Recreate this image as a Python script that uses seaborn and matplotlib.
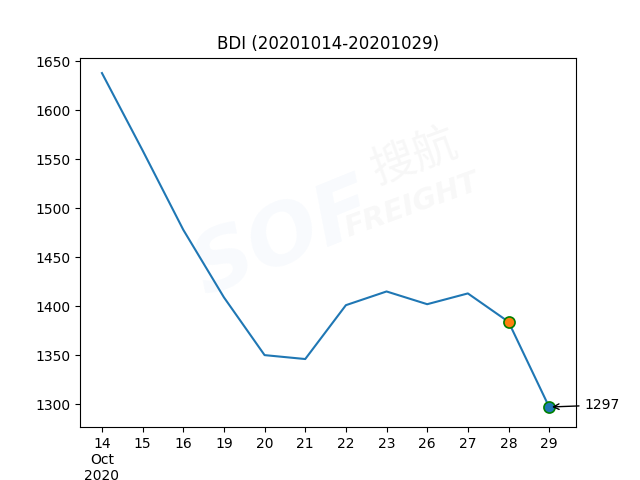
import pandas as pd
import matplotlib.pyplot as plt
import seaborn as sns

days = ['14', '15', '16', '19', '20', '21', '22', '23', '26', '27', '28', '29']
bdi = [1638, 1559, 1478, 1409, 1350, 1346, 1401, 1415, 1402, 1413, 1384, 1297]

df = pd.DataFrame({'pos': range(len(days)), 'bdi': bdi})

plt.rcParams['font.family'] = ['DejaVu Sans', 'Noto Sans CJK SC']
fig, ax = plt.subplots(figsize=(6.4, 4.8), dpi=100)

# faint watermark
ax.text(0.41, 0.51, 'SOF', transform=ax.transAxes, fontsize=60, fontstyle='italic',
        fontweight='bold', color='#2a7fd4', alpha=0.035, rotation=22,
        ha='center', va='center', zorder=0)
ax.text(0.675, 0.73, '搜航', transform=ax.transAxes, fontsize=32,
        family=['Noto Sans CJK SC', 'DejaVu Sans'], color='#999999', alpha=0.08,
        rotation=20, ha='center', va='center', zorder=0)
ax.text(0.67, 0.60, 'FREIGHT', transform=ax.transAxes, fontsize=21, fontweight='bold',
        fontstyle='italic', color='#999999', alpha=0.07, rotation=20,
        ha='center', va='center', zorder=0)

sns.lineplot(data=df, x='pos', y='bdi', ax=ax, color='C0')
ax.plot(df['pos'].iloc[-2], df['bdi'].iloc[-2], 'o', color='C1', mec='green', ms=8, mew=1.2)
ax.plot(df['pos'].iloc[-1], df['bdi'].iloc[-1], 'o', color='C0', mec='green', ms=8, mew=1.2)
ax.annotate(str(bdi[-1]), xy=(df['pos'].iloc[-1], bdi[-1]),
            xytext=(df['pos'].iloc[-1] + 0.87, bdi[-1] + 2),
            arrowprops=dict(arrowstyle='->', color='black'), va='center')

labels = list(days)
labels[0] = '14\nOct\n2020'
ax.set_xticks(range(len(days)))
ax.set_xticklabels(labels)
ax.set_xlim(-0.54, 11.66)
ax.set_ylim(1276.4, 1653.8)
ax.set_xlabel('')
ax.set_ylabel('')
ax.set_title('BDI (20201014-20201029)')

fig.savefig('out.png')
